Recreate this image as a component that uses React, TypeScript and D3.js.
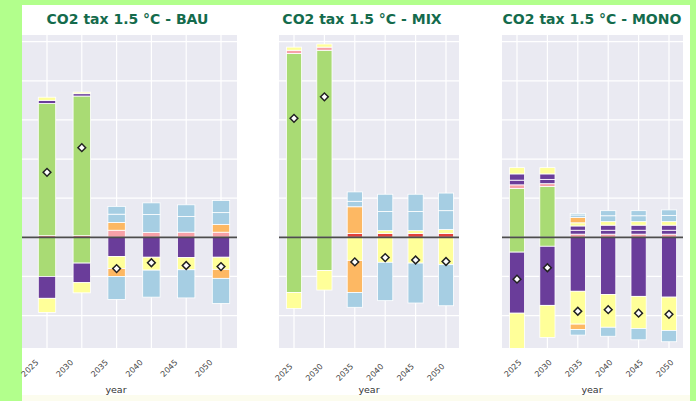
import React from "react";
import * as d3 from "d3";

// categories
const years = ["2025", "2030", "2035", "2040", "2045", "2050"];

// stacked components (positives stack up in this order, negatives stack down)
const seriesKeys = [
  "red", "greenPos", "pink", "purplePosA", "purplePosB", "yellowPos", "orangePos", "bluePosA", "bluePosB",
  "greenNeg", "purpleNeg", "yellowNeg", "orangeNeg", "blueNeg",
];
const seriesColors = [
  "#e2413c", "#a9db74", "#f7a1a8", "#6a3d9a", "#6a3d9a", "#ffff99", "#fdb863", "#a6cee3", "#a6cee3",
  "#a9db74", "#6a3d9a", "#ffff99", "#fdb863", "#a6cee3",
];

// one row per series, one value per year
const bauValues = [
  [0.4, 0.4, 0, 0, 0, 0],
  [33.8, 35.7, 0, 0, 0, 0],
  [0, 0, 1.8, 1.2, 1.3, 1.3],
  [0.8, 0.6, 0, 0, 0, 0],
  [0, 0, 0, 0, 0, 0],
  [0.8, 0.4, 0, 0, 0, 0],
  [0, 0, 2.0, 0, 0, 2.0],
  [0, 0, 2.1, 4.6, 4.0, 3.0],
  [0, 0, 2.0, 3.0, 3.0, 3.1],
  [-10, -6.6, 0, 0, 0, 0],
  [-5.6, -5.0, -4.9, -5.1, -5.2, -5.1],
  [-3.6, -2.6, -3.1, -3.3, -3.1, -3.1],
  [0, 0, -2.0, 0, 0, -2.3],
  [0, 0, -5.9, -6.9, -7.2, -6.4],
];

const mixValues = [
  [0, 0, 1.0, 1.0, 1.0, 1.0],
  [47.0, 47.8, 0, 0, 0, 0],
  [0.8, 0.8, 0, 0, 0, 0],
  [0, 0, 0, 0, 0, 0],
  [0, 0, 0, 0, 0, 0],
  [0.8, 0.8, 0, 0.7, 0.7, 1.0],
  [0, 0, 6.8, 0, 0, 0],
  [0, 0, 1.4, 4.9, 4.9, 4.8],
  [0, 0, 2.4, 4.4, 4.4, 4.5],
  [-14.1, -8.5, 0, 0, 0, 0],
  [0, 0, 0, 0, 0, 0],
  [-4.1, -5.0, -5.9, -6.4, -6.6, -7.0],
  [0, 0, -8.2, 0, 0, 0],
  [0, 0, -3.8, -9.8, -10.2, -10.5],
];

const monoValues = [
  [0, 0, 0, 0, 0, 0],
  [12.5, 13.0, 0, 0, 0, 0],
  [0.9, 0.7, 0.8, 0.8, 0.8, 0.8],
  [1.2, 1.1, 1.0, 1.0, 1.0, 1.0],
  [1.6, 1.4, 1.1, 1.3, 1.3, 1.3],
  [1.6, 1.6, 0.8, 0.9, 0.9, 0.9],
  [0, 0, 1.4, 0, 0, 0],
  [0, 0, 0.6, 1.5, 1.5, 1.6],
  [0, 0, 0.4, 1.3, 1.3, 1.4],
  [-3.8, -2.3, 0, 0, 0, 0],
  [-15.6, -15.1, -13.8, -14.6, -15.1, -15.3],
  [-9.1, -8.2, -8.4, -8.4, -8.2, -8.5],
  [0, 0, -1.4, 0, 0, 0],
  [0, 0, -1.4, -2.3, -2.9, -2.9],
];

const yTicks = [-20, -10, 0, 10, 20, 30, 40, 50];

const panels = [
  { title: "CO2 tax 1.5 °C - BAU", values: bauValues, x0: 22, x1: 237, c0: 47, c1: 221, titleX: 127.5, labelDx: -10, labelY: 361, yearX: 116 },
  { title: "CO2 tax 1.5 °C - MIX", values: mixValues, x0: 279, x1: 459, c0: 294, c1: 446, titleX: 362, labelDx: -3, labelY: 365, yearX: 369 },
  { title: "CO2 tax 1.5 °C - MONO", values: monoValues, x0: 502, x1: 683, c0: 517, c1: 669, titleX: 592, labelDx: 3, labelY: 361, yearX: 592 },
];

const W = 696;
const H = 401;
const plotTop = 35;
const plotBottom = 348;

const y = d3.scaleLinear().domain([-28.3, 51.7]).range([plotBottom, plotTop]);

const diamond = d3.symbol(d3.symbolSquare, 30)();

const Panel = ({ p, idx }: { p: any; idx: number }) => {
  const x = d3.scalePoint<string>().domain(years).range([p.c0, p.c1]);
  const barW = x.step() * 0.5;

  const rows = years.map((yr, j) => {
    const row: any = { year: yr };
    seriesKeys.forEach((k, i) => (row[k] = p.values[i][j]));
    return row;
  });
  const stacked = d3.stack<any>().keys(seriesKeys).offset(d3.stackOffsetDiverging)(rows);
  const totals = years.map((_, j) => d3.sum(p.values, (r: number[]) => r[j]));
  const clipId = `clip-${idx}`;

  return (
    <g>
      <text x={p.titleX} y={24} textAnchor="middle" fontFamily="DejaVu Sans, Verdana, sans-serif"
        fontWeight="bold" fontSize={14} fill="#146b4c">{p.title}</text>
      <defs>
        <clipPath id={clipId}>
          <rect x={p.x0} y={plotTop} width={p.x1 - p.x0} height={plotBottom - plotTop} />
        </clipPath>
      </defs>
      <rect x={p.x0} y={plotTop} width={p.x1 - p.x0} height={plotBottom - plotTop} fill="#eaeaf2" />
      {yTicks.map(t => (
        <line key={t} x1={p.x0} x2={p.x1} y1={y(t)} y2={y(t)} stroke="#fff" strokeWidth={1.2} />
      ))}
      {years.map(yr => (
        <line key={yr} x1={x(yr)} x2={x(yr)} y1={plotTop} y2={plotBottom} stroke="#fff" strokeWidth={1.2} />
      ))}
      <g clipPath={`url(#${clipId})`}>
        {stacked.map((s, i) =>
          s.map((d, j) => {
            const h = y(d[0]) - y(d[1]);
            if (Math.abs(h) < 0.01) return null;
            return (
              <rect key={`${i}-${j}`} x={(x(years[j]) as number) - barW / 2} y={y(d[1])} width={barW} height={h}
                fill={seriesColors[i]} stroke="#fff" strokeWidth={0.8} />
            );
          })
        )}
      </g>
      <line x1={p.x0} x2={p.x1} y1={y(0)} y2={y(0)} stroke="#4d4d4d" strokeWidth={1.8} />
      {totals.map((t, j) => (
        <path key={j} d={diamond as string} transform={`translate(${x(years[j])},${y(t)}) rotate(45)`}
          fill="#fff" stroke="#222" strokeWidth={1.5} />
      ))}
      {years.map(yr => (
        <text key={yr} transform={`translate(${(x(yr) as number) + p.labelDx},${p.labelY}) rotate(-45)`}
          textAnchor="end" dy="0.35em" fontFamily="DejaVu Sans, sans-serif" fontSize={8} fill="#444">{yr}</text>
      ))}
      <text x={p.yearX} y={393} textAnchor="middle" fontFamily="DejaVu Sans, sans-serif" fontSize={9.5} fill="#333">year</text>
    </g>
  );
};

export default function App() {
  return (
    <div style={{ position: "fixed", left: 0, top: 0 }}>
      <svg width={W} height={H} style={{ display: "block" }}>
        <rect x={0} y={0} width={W} height={H} fill="#b2ff8c" />
        <rect x={22} y={5} width={668} height={H - 5} fill="#fff" />
        <rect x={22} y={395} width={668} height={6} fill="#fcfcee" />
        {panels.map((p, i) => (
          <Panel key={i} p={p} idx={i} />
        ))}
      </svg>
    </div>
  );
}
